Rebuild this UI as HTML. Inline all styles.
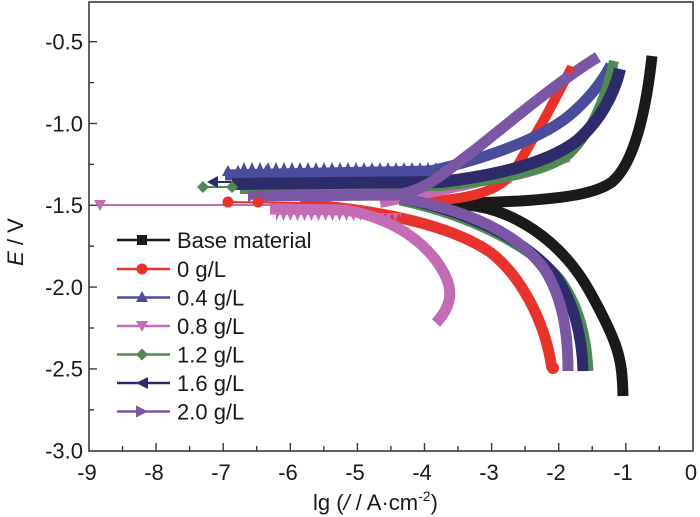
<!DOCTYPE html>
<html>
<head>
<meta charset="utf-8">
<style>
  html,body{margin:0;padding:0;background:#fff;}
  svg{display:block;}
  text{font-family:"Liberation Sans",Arial,sans-serif;fill:#1a1a1a;}
</style>
</head>
<body>
<svg width="700" height="517" viewBox="0 0 700 517" xmlns="http://www.w3.org/2000/svg">
  <defs>
    <pattern id="tu" x="0" y="162" width="8" height="9" patternUnits="userSpaceOnUse">
      <path d="M0,9 L4,0 L8,9Z" fill="#4a4c9c"/>
    </pattern>
    <pattern id="td" x="0" y="213" width="7" height="8" patternUnits="userSpaceOnUse">
      <path d="M0,0 L3.5,8 L7,0Z" fill="#c46bb6"/>
    </pattern>
  </defs>

  <!-- frame -->
  <rect x="89" y="2" width="604" height="449" fill="none" stroke="#3a3a3a" stroke-width="1.6"/>

  <!-- y ticks -->
  <g stroke="#3a3a3a" stroke-width="1.4">
    <line x1="89" y1="41.7" x2="97" y2="41.7"/>
    <line x1="89" y1="123.5" x2="97" y2="123.5"/>
    <line x1="89" y1="205.3" x2="97" y2="205.3"/>
    <line x1="89" y1="287.1" x2="97" y2="287.1"/>
    <line x1="89" y1="368.9" x2="97" y2="368.9"/>
    <line x1="89" y1="82.6" x2="94" y2="82.6"/>
    <line x1="89" y1="164.4" x2="94" y2="164.4"/>
    <line x1="89" y1="246.2" x2="94" y2="246.2"/>
    <line x1="89" y1="328" x2="94" y2="328"/>
    <line x1="89" y1="409.8" x2="94" y2="409.8"/>
  </g>
  <!-- x ticks -->
  <g stroke="#3a3a3a" stroke-width="1.4">
    <line x1="156.1" y1="451" x2="156.1" y2="443"/>
    <line x1="223.2" y1="451" x2="223.2" y2="443"/>
    <line x1="290.3" y1="451" x2="290.3" y2="443"/>
    <line x1="357.4" y1="451" x2="357.4" y2="443"/>
    <line x1="424.5" y1="451" x2="424.5" y2="443"/>
    <line x1="491.6" y1="451" x2="491.6" y2="443"/>
    <line x1="558.7" y1="451" x2="558.7" y2="443"/>
    <line x1="625.8" y1="451" x2="625.8" y2="443"/>
    <line x1="122.5" y1="451" x2="122.5" y2="446"/>
    <line x1="189.6" y1="451" x2="189.6" y2="446"/>
    <line x1="256.7" y1="451" x2="256.7" y2="446"/>
    <line x1="323.8" y1="451" x2="323.8" y2="446"/>
    <line x1="390.9" y1="451" x2="390.9" y2="446"/>
    <line x1="458" y1="451" x2="458" y2="446"/>
    <line x1="525.1" y1="451" x2="525.1" y2="446"/>
    <line x1="592.2" y1="451" x2="592.2" y2="446"/>
    <line x1="659.3" y1="451" x2="659.3" y2="446"/>
  </g>

  <!-- y tick labels -->
  <g font-size="22" text-anchor="end">
    <text x="83" y="49.5">-0.5</text>
    <text x="83" y="131.3">-1.0</text>
    <text x="83" y="213.1">-1.5</text>
    <text x="83" y="294.9">-2.0</text>
    <text x="83" y="376.7">-2.5</text>
    <text x="83" y="458.5">-3.0</text>
  </g>
  <!-- x tick labels -->
  <g font-size="22" text-anchor="middle">
    <text x="87" y="480">-9</text>
    <text x="154" y="480">-8</text>
    <text x="221" y="480">-7</text>
    <text x="288" y="480">-6</text>
    <text x="355" y="480">-5</text>
    <text x="422" y="480">-4</text>
    <text x="489" y="480">-3</text>
    <text x="556" y="480">-2</text>
    <text x="623" y="480">-1</text>
    <text x="691" y="480">0</text>
  </g>

  <!-- axis titles -->
  <text x="313" y="510" font-size="22">lg (<tspan font-style="italic">/</tspan> / A·cm<tspan dy="-9" font-size="14">-2</tspan><tspan dy="9">)</tspan></text>
  <text transform="translate(23,242) rotate(-90)" font-size="22" text-anchor="middle"><tspan font-style="italic">E</tspan> / V</text>

  <!-- ===== Series ===== -->
  <g fill="none" stroke-linejoin="round" stroke-linecap="butt">
    <!-- Base material (black) -->
    <path d="M425,205 L520,201 C565,198 595,194 612,182 C632,165 645,120 652,56" stroke="#1a1a1a" stroke-width="11"/>
    <path d="M465,205 C510,208 560,238 590,292 S622,360 623,396" stroke="#1a1a1a" stroke-width="11"/>

    <!-- 0 g/L (red) -->
    <path d="M228,202 L300,203" stroke="#e8332b" stroke-width="2"/>
    <path d="M300,204 C380,210 450,225 490,252 C520,275 545,320 552,369" stroke="#e8332b" stroke-width="11"/>
    <path d="M420,202 C470,199 500,192 515,170 L545,118 L572,67" stroke="#e8332b" stroke-width="10"/>

    <!-- 0.4 g/L (blue) -->
    <path d="M225,175 L430,171 C480,160 540,140 570,115 C590,98 602,82 611,65" stroke="#4a4c9c" stroke-width="11"/>

    <!-- 0.8 g/L (pink) -->
    <path d="M100,205 L275,205" stroke="#c46bb6" stroke-width="2"/>
    <path d="M270,209 L345,210 C395,218 430,245 445,275 C455,295 448,310 436,323" stroke="#c46bb6" stroke-width="11"/>
    <path d="M380,203 C420,195 500,180 569,157" stroke="#c46bb6" stroke-width="10"/>

    <!-- 1.2 g/L (green) -->
    <path d="M203,187 L240,187" stroke="#4f8a50" stroke-width="2"/>
    <path d="M240,189 L440,186 C500,180 545,172 568,155 C590,135 605,100 614,61" stroke="#4f8a50" stroke-width="10"/>
    <path d="M400,200 C470,215 530,245 560,280 C578,305 586,335 588,371" stroke="#4f8a50" stroke-width="11"/>

    <!-- 1.6 g/L (navy) -->
    <path d="M213,182 L240,182" stroke="#2e2b6b" stroke-width="2"/>
    <path d="M232,184 L440,182 C500,175 550,162 578,140 C600,120 614,95 620,69" stroke="#2e2b6b" stroke-width="12"/>
    <path d="M400,198 C470,212 525,240 555,275 C573,300 582,335 583,371" stroke="#2e2b6b" stroke-width="11"/>

    <!-- 2.0 g/L (purple) -->
    <path d="M253,196 L395,195 C425,192 445,172 476,149 C510,122 560,80 598,57" stroke="#7b56a5" stroke-width="11"/>
    <path d="M400,198 C470,210 520,235 545,270 C562,298 568,330 568,371" stroke="#7b56a5" stroke-width="11"/>
  </g>

  <!-- jagged textures -->
  <rect x="240" y="162" width="200" height="9" fill="url(#tu)"/>
  <rect x="276" y="213" width="125" height="8" fill="url(#td)"/>

  <!-- data markers -->
  <circle cx="228" cy="202" r="5.5" fill="#e8332b"/>
  <circle cx="258" cy="202" r="5.5" fill="#e8332b"/>
  <circle cx="553" cy="368" r="6" fill="#e8332b"/>
  <circle cx="570" cy="70" r="4" fill="#e8332b"/>
  <path d="M228,165 L234,176 L222,176Z M238,165 L244,176 L232,176Z M266,165 L272,176 L260,176Z" fill="#4a4c9c"/>
  <path d="M94,200 L106,200 L100,211Z" fill="#c46bb6"/>
  <path d="M203,181 L209,187 L203,193 L197,187Z M232,181 L238,187 L232,193 L226,187Z" fill="#4f8a50"/>
  <path d="M207,182 L218,176 L218,188Z" fill="#2e2b6b"/>
  <path d="M259,196 L248,190 L248,202Z" fill="#7b56a5"/>

  <!-- legend -->
  <g stroke-width="2.4">
    <line x1="117" y1="240" x2="170" y2="240" stroke="#1a1a1a"/>
    <line x1="117" y1="269" x2="170" y2="269" stroke="#e8332b"/>
    <line x1="117" y1="297.5" x2="170" y2="297.5" stroke="#4a4c9c"/>
    <line x1="117" y1="326" x2="170" y2="326" stroke="#c46bb6"/>
    <line x1="117" y1="354.5" x2="170" y2="354.5" stroke="#4f8a50"/>
    <line x1="117" y1="383" x2="170" y2="383" stroke="#2e2b6b"/>
    <line x1="117" y1="411.5" x2="170" y2="411.5" stroke="#7b56a5"/>
  </g>
  <rect x="137" y="235" width="10" height="10" fill="#1a1a1a"/>
  <circle cx="142" cy="269" r="5.5" fill="#e8332b"/>
  <path d="M142,291 L148,302 L136,302Z" fill="#4a4c9c"/>
  <path d="M136,321 L148,321 L142,332Z" fill="#c46bb6"/>
  <path d="M142,348.5 L148,354.5 L142,360.5 L136,354.5Z" fill="#4f8a50"/>
  <path d="M136,383 L148,377 L148,389Z" fill="#2e2b6b"/>
  <path d="M148,411.5 L136,405.5 L136,417.5Z" fill="#7b56a5"/>

  <g font-size="22">
    <text x="177" y="248">Base material</text>
    <text x="177" y="277">0 g/L</text>
    <text x="177" y="305.5">0.4 g/L</text>
    <text x="177" y="334">0.8 g/L</text>
    <text x="177" y="362.5">1.2 g/L</text>
    <text x="177" y="391">1.6 g/L</text>
    <text x="177" y="419.5">2.0 g/L</text>
  </g>
</svg>
</body>
</html>
